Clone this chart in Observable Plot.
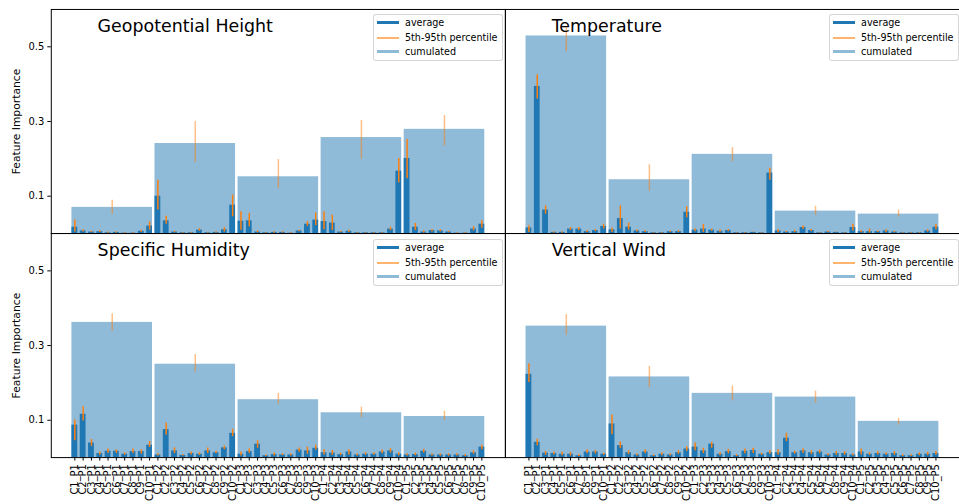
<!DOCTYPE html>
<html>
<head>
<meta charset="utf-8">
<script src="https://cdn.jsdelivr.net/npm/d3@7"></script>
<script src="https://cdn.jsdelivr.net/npm/@observablehq/plot@0.6"></script>
<style>
  html, body { margin: 0; padding: 0; overflow: hidden; background: white; }
  #chart { position: relative; width: 959px; height: 504px; overflow: hidden; font-family: "DejaVu Sans", sans-serif; }
  #chart svg { position: absolute; left: 0; top: 0; }
  .legend { position: absolute; width: 130px; height: 47px; border: 1px solid rgba(204,204,204,0.8); border-radius: 3px; background: rgba(255,255,255,0.8); box-sizing: border-box; font-size: 9.6px; color: #000; font-family: "DejaVu Sans", sans-serif; }
  .legend .row { position: absolute; left: 0; height: 14px; width: 100%; }
  .legend .sw { position: absolute; left: 3px; width: 22px; }
  .legend .lb { position: absolute; left: 31px; top: 0; line-height: 14px; white-space: nowrap; }
</style>
</head>
<body>
<div id="chart"></div>
<script>
// ---- categories / tick labels ----
const components = ["C1","C2","C3","C4","C5","C6","C7","C8","C9","C10"];
const groups = ["P1","P2","P3","P4","P5"];
const tickLabels = groups.flatMap(p => components.map(c => `${c}_${p}`));
const titles = ["Geopotential Height", "Temperature", "Specific Humidity", "Vertical Wind"];
const yTicks = [0.1, 0.3, 0.5];
const yLabel = "Feature Importance";

// ---- Geopotential Height ----
const geoAvg = [0.017,0.007,0.004,0.005,0.002,0.003,0.001,0.001,0.006,0.020,
                0.100,0.034,0.004,0.002,0.002,0.009,0.002,0.003,0.010,0.076,
                0.033,0.034,0.004,0.002,0.003,0.003,0.001,0.007,0.025,0.036,
                0.032,0.028,0.004,0.006,0.002,0.002,0.002,0.002,0.012,0.167,
                0.201,0.017,0.004,0.008,0.007,0.004,0.001,0.001,0.012,0.025];
const geoLo  = [0.004,0.004,0.002,0.003,0.001,0.001,0.000,0.000,0.003,0.009,
                0.063,0.025,0.002,0.001,0.001,0.006,0.001,0.001,0.004,0.045,
                0.009,0.018,0.002,0.001,0.001,0.001,0.000,0.005,0.019,0.021,
                0.010,0.008,0.002,0.003,0.001,0.001,0.001,0.001,0.008,0.135,
                0.147,0.008,0.001,0.004,0.004,0.002,0.000,0.000,0.007,0.014];
const geoHi  = [0.036,0.010,0.006,0.008,0.004,0.005,0.002,0.002,0.009,0.031,
                0.143,0.046,0.006,0.003,0.003,0.013,0.003,0.005,0.016,0.103,
                0.058,0.054,0.007,0.003,0.005,0.005,0.002,0.009,0.032,0.055,
                0.058,0.049,0.006,0.009,0.003,0.003,0.003,0.003,0.017,0.201,
                0.252,0.027,0.007,0.011,0.010,0.006,0.002,0.002,0.018,0.034];
const geoCum   = [0.070,0.241,0.152,0.257,0.279];
const geoCumLo = [0.051,0.190,0.120,0.199,0.234];
const geoCumHi = [0.089,0.300,0.198,0.303,0.316];

// ---- Temperature ----
const tempAvg = [0.015,0.394,0.063,0.003,0.003,0.012,0.012,0.005,0.008,0.019,
                 0.010,0.040,0.017,0.007,0.005,0.002,0.002,0.005,0.005,0.057,
                 0.009,0.012,0.009,0.006,0.008,0.002,0.002,0.003,0.002,0.162,
                 0.007,0.004,0.005,0.016,0.008,0.002,0.004,0.003,0.002,0.016,
                 0.005,0.005,0.005,0.007,0.004,0.002,0.002,0.002,0.007,0.017];
const tempLo  = [0.003,0.360,0.052,0.001,0.001,0.008,0.008,0.002,0.005,0.012,
                 0.003,0.012,0.009,0.004,0.003,0.001,0.001,0.003,0.003,0.042,
                 0.005,0.003,0.006,0.002,0.005,0.001,0.001,0.002,0.001,0.143,
                 0.002,0.002,0.002,0.011,0.005,0.001,0.002,0.002,0.001,0.007,
                 0.002,0.001,0.003,0.002,0.002,0.001,0.001,0.001,0.004,0.010];
const tempHi  = [0.021,0.425,0.074,0.005,0.005,0.016,0.016,0.008,0.011,0.025,
                 0.015,0.074,0.028,0.010,0.008,0.003,0.003,0.007,0.008,0.072,
                 0.013,0.024,0.012,0.010,0.011,0.003,0.003,0.004,0.003,0.175,
                 0.011,0.006,0.009,0.020,0.011,0.003,0.006,0.004,0.003,0.025,
                 0.008,0.012,0.007,0.010,0.006,0.003,0.003,0.003,0.010,0.024];
const tempCum   = [0.529,0.144,0.212,0.060,0.052];
const tempCumLo = [0.487,0.113,0.192,0.049,0.044];
const tempCumHi = [0.553,0.184,0.230,0.073,0.063];

// ---- Specific Humidity ----
const humAvg = [0.087,0.116,0.039,0.011,0.017,0.017,0.009,0.016,0.016,0.033,
                0.007,0.075,0.018,0.006,0.011,0.009,0.018,0.013,0.026,0.065,
                0.009,0.016,0.036,0.005,0.008,0.007,0.007,0.020,0.018,0.025,
                0.013,0.012,0.008,0.015,0.007,0.009,0.009,0.015,0.018,0.009,
                0.007,0.008,0.017,0.007,0.007,0.007,0.007,0.005,0.013,0.028];
const humLo  = [0.045,0.098,0.030,0.006,0.011,0.011,0.006,0.011,0.009,0.027,
                0.004,0.060,0.011,0.004,0.007,0.006,0.011,0.010,0.021,0.056,
                0.004,0.011,0.025,0.003,0.004,0.005,0.004,0.014,0.009,0.020,
                0.007,0.006,0.005,0.007,0.004,0.006,0.006,0.010,0.012,0.005,
                0.004,0.005,0.012,0.004,0.004,0.004,0.004,0.003,0.009,0.021];
const humHi  = [0.101,0.136,0.048,0.015,0.023,0.021,0.013,0.023,0.021,0.043,
                0.010,0.092,0.026,0.008,0.015,0.013,0.026,0.017,0.031,0.076,
                0.015,0.023,0.045,0.007,0.012,0.010,0.010,0.026,0.028,0.033,
                0.021,0.019,0.012,0.021,0.010,0.013,0.013,0.020,0.024,0.013,
                0.010,0.012,0.022,0.010,0.010,0.010,0.010,0.008,0.018,0.033];
const humCum   = [0.362,0.250,0.155,0.120,0.110];
const humCumLo = [0.338,0.229,0.143,0.107,0.099];
const humCumHi = [0.385,0.276,0.172,0.135,0.124];

// ---- Vertical Wind ----
const windAvg = [0.223,0.041,0.012,0.011,0.009,0.009,0.005,0.015,0.015,0.009,
                 0.090,0.032,0.013,0.007,0.015,0.005,0.009,0.007,0.013,0.023,
                 0.028,0.018,0.036,0.009,0.016,0.005,0.017,0.019,0.009,0.013,
                 0.013,0.052,0.013,0.018,0.013,0.015,0.007,0.011,0.011,0.007,
                 0.015,0.009,0.011,0.009,0.011,0.005,0.005,0.009,0.009,0.011];
const windLo  = [0.201,0.032,0.006,0.007,0.005,0.004,0.003,0.010,0.010,0.006,
                 0.061,0.024,0.008,0.004,0.010,0.003,0.005,0.004,0.009,0.016,
                 0.018,0.011,0.025,0.005,0.010,0.003,0.010,0.011,0.006,0.009,
                 0.007,0.043,0.009,0.011,0.008,0.010,0.004,0.006,0.006,0.004,
                 0.007,0.006,0.007,0.006,0.006,0.003,0.003,0.005,0.005,0.006];
const windHi  = [0.251,0.049,0.016,0.015,0.014,0.014,0.008,0.021,0.019,0.012,
                 0.114,0.042,0.018,0.010,0.021,0.007,0.013,0.010,0.018,0.029,
                 0.039,0.025,0.041,0.013,0.022,0.008,0.023,0.025,0.012,0.018,
                 0.021,0.065,0.017,0.024,0.018,0.020,0.010,0.016,0.016,0.010,
                 0.023,0.013,0.016,0.013,0.016,0.008,0.008,0.013,0.014,0.016];
const windCum   = [0.352,0.216,0.172,0.162,0.097];
const windCumLo = [0.328,0.187,0.152,0.146,0.087];
const windCumHi = [0.383,0.244,0.192,0.178,0.105];

// ---- drawing ----
const BLUE = "#1f77b4", ORANGE = "#ff7f0e";
const avgW = 0.7, cumW = 9.7, perGroup = components.length;
const n = tickLabels.length;
const lo0 = (perGroup - 1) / 2 - cumW / 2, hi0 = (n - 1) - (perGroup - 1) / 2 + cumW / 2;
const pad = 0.05 * (hi0 - lo0);
const xDomain = [lo0 - pad, hi0 + pad];

const FIG_W = 963, FIG_H = 504;
const PANEL_L = [51, 507], PANEL_T = [9, 234], PANEL_W = 456, PANEL_H = 225;

function panel(idx, avg, lo, hi, cum, cumLo, cumHi) {
  const col = idx % 2, row = Math.floor(idx / 2);
  const bars = avg.map((v, i) => ({i, v, lo: lo[i], hi: hi[i]}));
  const cums = cum.map((v, g) => ({c: g * perGroup + (perGroup - 1) / 2, v, lo: cumLo[g], hi: cumHi[g]}));
  const left = PANEL_L[col], top = PANEL_T[row];
  const marks = [
    Plot.rect(cums, {x1: d => d.c - cumW / 2, x2: d => d.c + cumW / 2, y1: () => 0, y2: "v", fill: BLUE, fillOpacity: 0.5}),
    Plot.ruleX(cums, {x: "c", y1: "lo", y2: "hi", stroke: ORANGE, strokeOpacity: 0.5, strokeWidth: 1.5}),
    Plot.rect(bars, {x1: d => d.i - avgW / 2, x2: d => d.i + avgW / 2, y1: () => 0, y2: "v", fill: BLUE}),
    Plot.ruleX(bars, {x: "i", y1: "lo", y2: "hi", stroke: ORANGE, strokeWidth: 1.5}),
    Plot.frame({stroke: "black", strokeWidth: 1}),
    Plot.text([titles[idx]], {frameAnchor: "top-left", dx: 46.5, dy: 22.5, textAnchor: "start", lineAnchor: "bottom", fontSize: 17.5, fill: "black"})
  ];
  if (col === 0) {
    marks.push(Plot.axisY({ticks: yTicks, tickFormat: ".1f", tickSize: 3.5, tickPadding: 3.5, fontSize: 10, label: null}));
    marks.push(Plot.text([yLabel], {frameAnchor: "left", rotate: -90, dx: -35, fontSize: 10.8, textAnchor: "middle", lineAnchor: "middle", fill: "black"}));
  }
  if (row === 1) {
    marks.push(Plot.axisX({ticks: d3.range(n), tickFormat: i => tickLabels[i], tickRotate: -90, tickSize: 3.5, tickPadding: 3, fontSize: 10, label: null}));
  }
  return Plot.plot({
    width: FIG_W, height: FIG_H,
    marginLeft: left, marginRight: FIG_W - left - PANEL_W,
    marginTop: top, marginBottom: FIG_H - top - PANEL_H,
    x: {domain: xDomain, axis: null},
    y: {domain: [0, 0.6], axis: null},
    style: {background: "transparent", overflow: "visible", fontFamily: "DejaVu Sans", color: "black", fontSize: "10px"},
    marks
  });
}

const chart = document.getElementById("chart");
const series = [
  [geoAvg, geoLo, geoHi, geoCum, geoCumLo, geoCumHi],
  [tempAvg, tempLo, tempHi, tempCum, tempCumLo, tempCumHi],
  [humAvg, humLo, humHi, humCum, humCumLo, humCumHi],
  [windAvg, windLo, windHi, windCum, windCumLo, windCumHi]
];
series.forEach((s, idx) => chart.appendChild(panel(idx, ...s)));

// legends (one per panel, upper right)
const legendItems = [
  {label: "average", color: BLUE, width: 3, opacity: 1},
  {label: "5th-95th percentile", color: "#ffb36e", width: 2, opacity: 1},
  {label: "cumulated", color: "#8fbbd9", width: 3, opacity: 1}
];
series.forEach((s, idx) => {
  const col = idx % 2, row = Math.floor(idx / 2);
  const lg = document.createElement("div");
  lg.className = "legend";
  lg.style.left = (PANEL_L[col] + 322) + "px";
  lg.style.top = (PANEL_T[row] + 5) + "px";
  legendItems.forEach((it, k) => {
    const r = document.createElement("div");
    r.className = "row";
    r.style.top = Math.round(1 + k * 14.7) + "px";
    const sw = document.createElement("div");
    sw.className = "sw";
    sw.style.height = it.width + "px";
    sw.style.top = (7 - Math.round(it.width / 2)) + "px";
    sw.style.background = it.color;
    sw.style.opacity = it.opacity;
    const lb = document.createElement("div");
    lb.className = "lb";
    lb.textContent = it.label;
    r.appendChild(sw); r.appendChild(lb);
    lg.appendChild(r);
  });
  chart.appendChild(lg);
});
</script>
</body>
</html>
